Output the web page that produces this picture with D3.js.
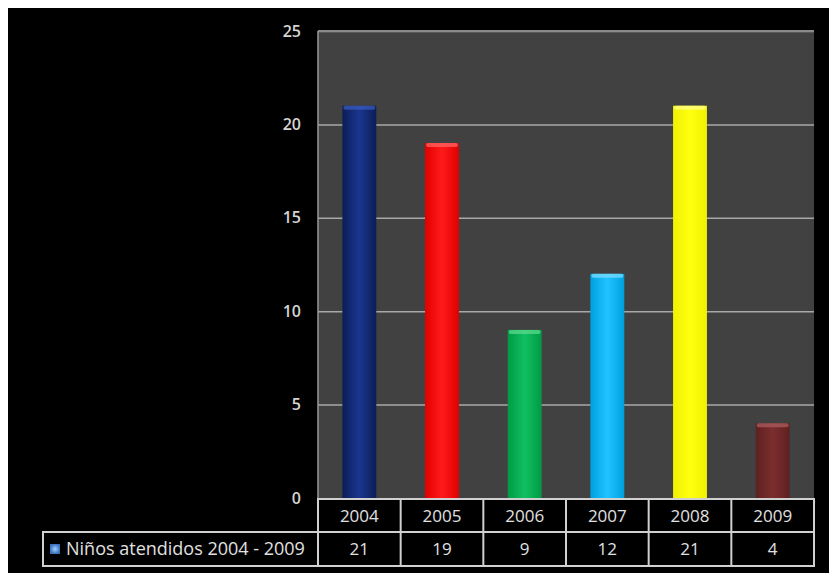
<!DOCTYPE html>
<html>
<head>
<meta charset="utf-8">
<script src="https://cdn.jsdelivr.net/npm/d3@7"></script>
<style>
  html, body { margin: 0; padding: 0; background: #ffffff; }
  svg { display: block; }
  text { font-family: "Open Sans", "Liberation Sans", sans-serif; }
</style>
</head>
<body>
<script>
// ---- data ----
const years = ["2004", "2005", "2006", "2007", "2008", "2009"];
const values = [21, 19, 9, 12, 21, 4];
const seriesName = "Niños atendidos 2004 - 2009";
const yTicks = [0, 5, 10, 15, 20, 25];
// bar palette (style)
const barColors = [
  {edge: "#0c1d55", mid: "#1b3690", cap: "#3a5ec0"},
  {edge: "#e00000", mid: "#ff1a1a", cap: "#ff6a6a"},
  {edge: "#009a45", mid: "#10c060", cap: "#60dc90"},
  {edge: "#00a0e0", mid: "#20c4ff", cap: "#80e0ff"},
  {edge: "#f0f000", mid: "#ffff10", cap: "#ffff90"},
  {edge: "#5e2020", mid: "#7c2e2e", cap: "#b06060"}
];

const W = 829, H = 573;
const svg = d3.select("body").append("svg").attr("width", W).attr("height", H);

// black background with white top/left margins
svg.append("rect").attr("x", 8).attr("y", 8).attr("width", W - 8).attr("height", H - 8).attr("fill", "#000");

const plotL = 318, plotR = 814, plotT = 31, plotB = 498;

const x = d3.scaleBand().domain(years).range([plotL, plotR]).padding(0);
const y = d3.scaleLinear().domain([0, 25]).range([plotB, plotT]);

// plot background
svg.append("rect").attr("x", plotL).attr("y", plotT).attr("width", plotR - plotL).attr("height", plotB - plotT)
  .attr("fill", "#414141");

// gridlines
const grid = svg.append("g").attr("transform", `translate(${plotL},0)`)
  .call(d3.axisLeft(y).tickValues(yTicks.filter(t => t > 0)).tickSize(-(plotR - plotL)).tickFormat(""));
grid.select(".domain").remove();
grid.selectAll("line").attr("stroke", "#a8a8a8").attr("stroke-width", 1.5);
// plot frame: top lighter, left line
svg.append("line").attr("x1", plotL).attr("x2", plotR).attr("y1", plotT).attr("y2", plotT)
  .attr("stroke", "#8a8a8a").attr("stroke-width", 2);
svg.append("line").attr("x1", plotL).attr("x2", plotL).attr("y1", plotT).attr("y2", plotB)
  .attr("stroke", "#9a9a9a").attr("stroke-width", 1.5);

// y axis labels
const yAxis = svg.append("g").attr("transform", `translate(${plotL - 17},0)`)
  .call(d3.axisLeft(y).tickValues(yTicks).tickSize(0).tickPadding(0));
yAxis.select(".domain").remove();
yAxis.selectAll("text").attr("fill", "#d4d4d4").attr("font-size", 16).attr("font-weight", 600)
  .attr("font-family", "'Open Sans', sans-serif");

// gradients
const defs = svg.append("defs");
barColors.forEach((c, i) => {
  const g = defs.append("linearGradient").attr("id", "bg" + i).attr("x1", "0").attr("x2", "1").attr("y1", "0").attr("y2", "0");
  g.append("stop").attr("offset", "0%").attr("stop-color", c.edge);
  g.append("stop").attr("offset", "50%").attr("stop-color", c.mid);
  g.append("stop").attr("offset", "100%").attr("stop-color", c.edge);
});

// bars
const barFrac = 0.41;
const bw = x.bandwidth() * barFrac;
const bars = svg.append("g");
years.forEach((yr, i) => {
  const cx = x(yr) + x.bandwidth() / 2;
  const top = y(values[i]);
  bars.append("rect").attr("x", cx - bw / 2).attr("y", top).attr("width", bw).attr("height", plotB - top)
    .attr("fill", `url(#bg${i})`);
  bars.append("rect").attr("x", cx - bw / 2 + 1).attr("y", top).attr("width", bw - 2).attr("height", 4)
    .attr("rx", 2).attr("fill", barColors[i].cap).attr("opacity", 0.7);
});

// data table
const row1T = 499, row1B = 532, row2B = 566, legL = 43;
const tbl = svg.append("g");
const stroke = "#d0d0d0";
tbl.append("rect").attr("x", plotL).attr("y", row1T).attr("width", plotR - plotL).attr("height", row2B - row1T)
  .attr("fill", "#000").attr("stroke", stroke).attr("stroke-width", 2);
tbl.append("rect").attr("x", legL).attr("y", row1B).attr("width", plotL - legL).attr("height", row2B - row1B)
  .attr("fill", "#000").attr("stroke", stroke).attr("stroke-width", 2);
tbl.append("line").attr("x1", legL).attr("x2", plotR).attr("y1", row1B).attr("y2", row1B)
  .attr("stroke", stroke).attr("stroke-width", 2);
years.forEach((yr, i) => {
  if (i > 0) {
    tbl.append("line").attr("x1", x(yr)).attr("x2", x(yr)).attr("y1", row1T).attr("y2", row2B)
      .attr("stroke", stroke).attr("stroke-width", 2);
  }
  const cx = x(yr) + x.bandwidth() / 2;
  tbl.append("text").attr("x", cx).attr("y", (row1T + row1B) / 2 + 6).attr("text-anchor", "middle")
    .attr("fill", "#e0e0e0").attr("font-size", 17).text(yr);
  tbl.append("text").attr("x", cx).attr("y", (row1B + row2B) / 2 + 6).attr("text-anchor", "middle")
    .attr("fill", "#e0e0e0").attr("font-size", 17).text(values[i]);
});

// legend swatch and label
const lg = defs.append("radialGradient").attr("id", "legGrad");
lg.append("stop").attr("offset", "0%").attr("stop-color", "#a0d0ff");
lg.append("stop").attr("offset", "100%").attr("stop-color", "#3a70c0");
tbl.append("rect").attr("x", 50).attr("y", 544).attr("width", 10).attr("height", 10).attr("fill", "url(#legGrad)");
tbl.append("text").attr("x", 66).attr("y", (row1B + row2B) / 2 + 6).attr("fill", "#e0e0e0")
  .attr("font-size", 18).text(seriesName);
</script>
</body>
</html>
